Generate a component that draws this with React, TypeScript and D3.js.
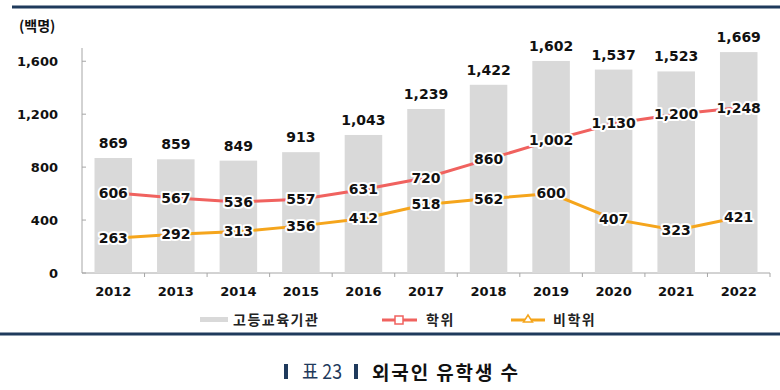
import React from 'react';
import * as d3 from 'd3';

const years = ['2012', '2013', '2014', '2015', '2016', '2017', '2018', '2019', '2020', '2021', '2022'];
const total = [869, 859, 849, 913, 1043, 1239, 1422, 1602, 1537, 1523, 1669];
const degree = [606, 567, 536, 557, 631, 720, 860, 1002, 1130, 1200, 1248];
const nonDegree = [263, 292, 313, 356, 412, 518, 562, 600, 407, 323, 421];
const yTicks = [0, 400, 800, 1200, 1600];

const NUM_FONT = '"DejaVu Sans", Verdana, sans-serif';
const KR_FONT = '"Noto Sans CJK KR", sans-serif';
const NAVY = '#1f3a5c';
const RED = '#f0625f';
const ORANGE = '#f5a51c';
const GRAY = '#d9d9d9';

const fmt = d3.format(',');

export default function App() {
  const width = 780, height = 390;
  const x = d3.scaleBand().domain(years).range([82, 770]).paddingInner(0.4).paddingOuter(0.2);
  const y = d3.scaleLinear().domain([0, 1700]).range([273, 48]);
  const cx = (i: number) => (x(years[i]) as number) + x.bandwidth() / 2;

  const line = d3.line<number>().x((_, i) => cx(i)).y(d => y(d));

  const halo = { stroke: '#fff', strokeWidth: 4, paintOrder: 'stroke' as const, strokeLinejoin: 'round' as const };

  return (
    <svg width={width} height={height} style={{ position: 'absolute', left: 0, top: 0, background: '#fff' }}>
      <line x1={12} x2={780} y1={7} y2={7} stroke={NAVY} strokeWidth={3} />
      <line x1={0} x2={780} y1={334} y2={334} stroke={NAVY} strokeWidth={3} />

      <text x={19} y={31} fontFamily={KR_FONT} fontWeight={700} fontSize={14} fill="#111">(백명)</text>

      {/* y axis */}
      <line x1={82} x2={82} y1={48} y2={273} stroke="#a6a6a6" />
      {yTicks.map(t => (
        <g key={t}>
          <line x1={82} x2={86} y1={y(t)} y2={y(t)} stroke="#a6a6a6" />
          <text x={58} y={y(t)} dy="0.35em" textAnchor="end" fontFamily={NUM_FONT} fontWeight={700} fontSize={13} fill="#111">{fmt(t)}</text>
        </g>
      ))}

      {/* x axis */}
      <line x1={82} x2={770} y1={273} y2={273} stroke="#a6a6a6" />
      {years.map((yr, i) => (
        <g key={yr}>
          <line x1={82 + x.step() * (i + 1)} x2={82 + x.step() * (i + 1)} y1={273} y2={277} stroke="#a6a6a6" />
          <text x={cx(i)} y={296} textAnchor="middle" fontFamily={NUM_FONT} fontWeight={700} fontSize={13} fill="#111">{yr}</text>
        </g>
      ))}

      {/* bars */}
      {total.map((v, i) => (
        <g key={years[i]}>
          <rect x={x(years[i])} y={y(v)} width={x.bandwidth()} height={y(0) - y(v)} fill={GRAY} />
          <text x={cx(i)} y={y(v) - 10} textAnchor="middle" fontFamily={NUM_FONT} fontWeight={700} fontSize={14} fill="#111">{fmt(v)}</text>
        </g>
      ))}

      <path d={line(degree) || ''} fill="none" stroke={RED} strokeWidth={3} />
      <path d={line(nonDegree) || ''} fill="none" stroke={ORANGE} strokeWidth={3} />

      {degree.map((v, i) => (
        <text key={'d' + i} x={cx(i)} y={y(v)} dy="0.35em" textAnchor="middle" fontFamily={NUM_FONT} fontWeight={700} fontSize={14} fill="#111" {...halo}>{fmt(v)}</text>
      ))}
      {nonDegree.map((v, i) => (
        <text key={'n' + i} x={cx(i)} y={y(v)} dy="0.35em" textAnchor="middle" fontFamily={NUM_FONT} fontWeight={700} fontSize={14} fill="#111" {...halo}>{fmt(v)}</text>
      ))}

      {/* legend */}
      <rect x={200} y={317} width={28} height={5} fill={GRAY} />
      <text x={233} y={320} dy="0.35em" fontFamily={KR_FONT} fontWeight={700} fontSize={14} fill="#222" letterSpacing={1.5}>고등교육기관</text>
      <line x1={382} x2={417} y1={320} y2={320} stroke={RED} strokeWidth={3} />
      <rect x={395} y={316} width={8} height={8} fill="#fff" stroke={RED} strokeWidth={1.5} />
      <text x={426} y={320} dy="0.35em" fontFamily={KR_FONT} fontWeight={700} fontSize={14} fill="#222" letterSpacing={1.5}>학위</text>
      <line x1={511} x2={545} y1={320} y2={320} stroke={ORANGE} strokeWidth={3} />
      <path d="M528,315 L532.5,322 L523.5,322 Z" fill="#fff" stroke={ORANGE} strokeWidth={1.5} />
      <text x={553} y={320} dy="0.35em" fontFamily={KR_FONT} fontWeight={700} fontSize={14} fill="#222" letterSpacing={1.5}>비학위</text>

      {/* title */}
      <rect x={284} y={364} width={4} height={15} fill={NAVY} />
      <text x={302} y={379} fontFamily={'"Liberation Sans Narrow", "Noto Sans CJK KR", sans-serif'} fontSize={20} fill={NAVY} textLength={40} lengthAdjust="spacingAndGlyphs">표 23</text>
      <rect x={354} y={364} width={4} height={15} fill={NAVY} />
      <text x={372} y={380} fontFamily={KR_FONT} fontWeight={700} fontSize={19} fill="#111" textLength={146} lengthAdjust="spacing">외국인 유학생 수</text>
    </svg>
  );
}
